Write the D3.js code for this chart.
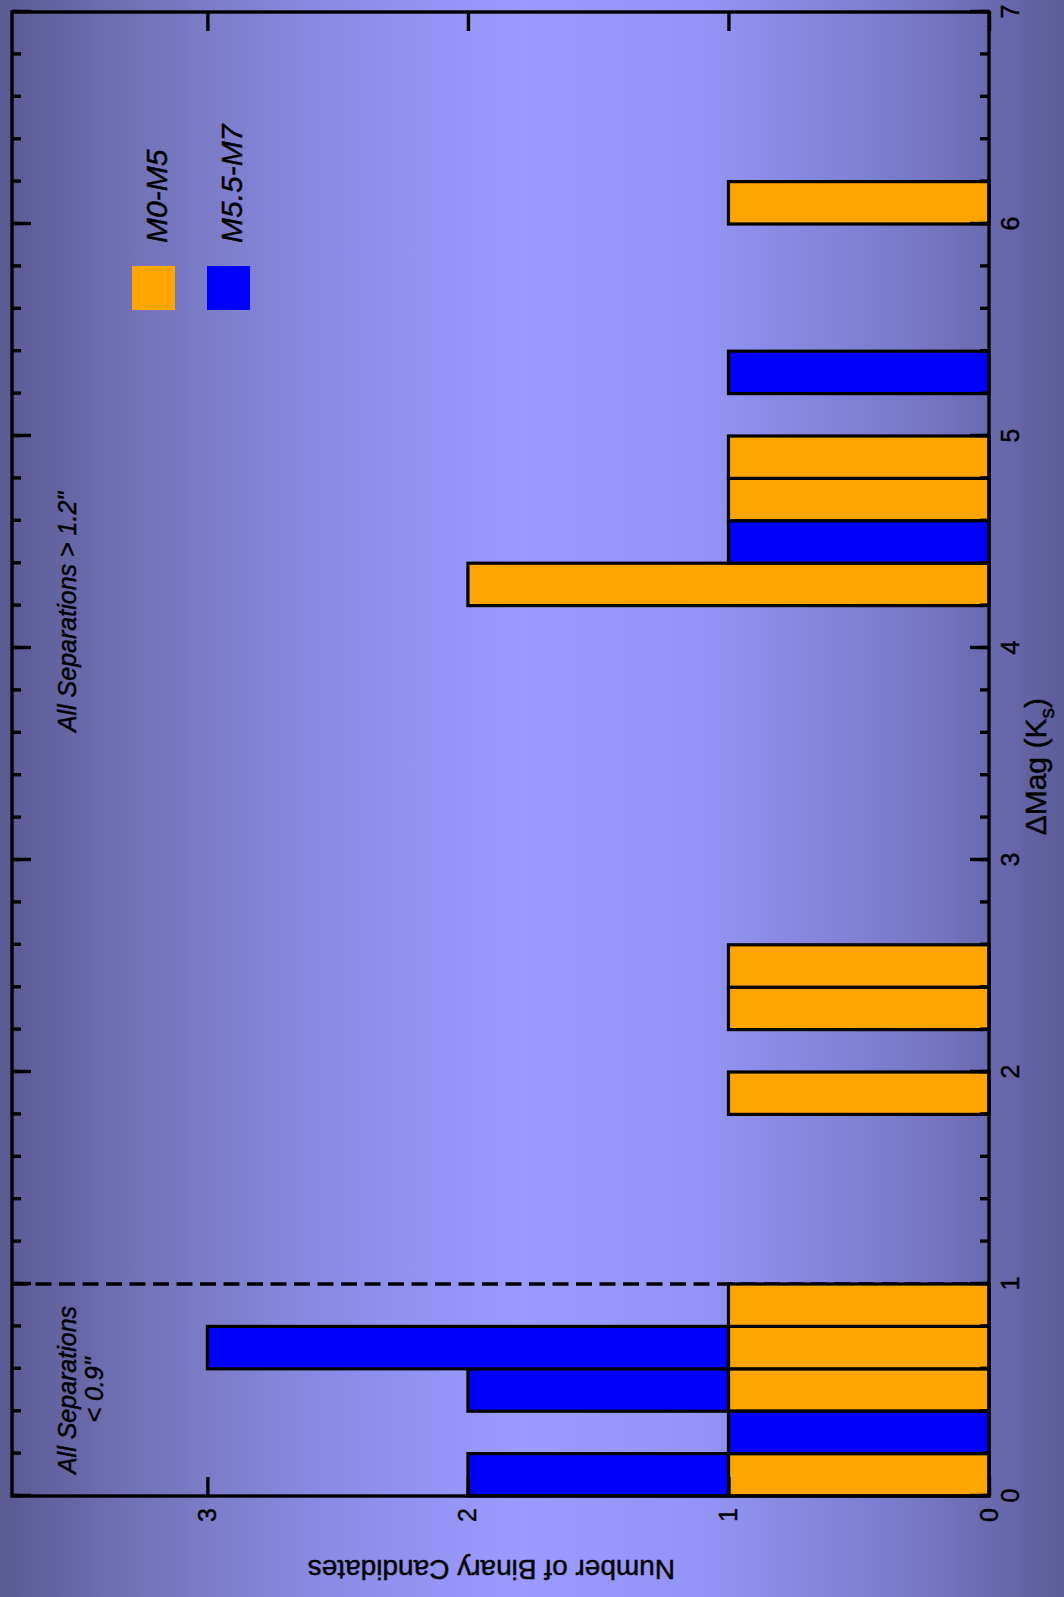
<!DOCTYPE html>
<html>
<head>
<meta charset="utf-8">
<script src="https://cdn.jsdelivr.net/npm/d3@7"></script>
<style>
  body { margin: 0; background: #5a5a94; }
  svg { display: block; font-family: "Liberation Sans", Arial, Helvetica, sans-serif; }
  svg text { stroke: #000; stroke-width: 0.45px; }
</style>
</head>
<body>
<div id="chart"></div>
<script>
// histogram bins of delta magnitude (lower edge, width 0.2)
const binLo = [0.0, 0.2, 0.4, 0.6, 0.8, 1.8, 2.2, 2.4, 4.2, 4.4, 4.6, 4.8, 5.2, 6.0];
const binWidth = 0.2;
// counts per bin for each spectral-type group
const earlyM = [1, 0, 1, 1, 1, 1, 1, 1, 2, 0, 1, 1, 0, 1];   // M0-M5
const lateM  = [1, 1, 1, 2, 0, 0, 0, 0, 0, 1, 0, 0, 1, 0];   // M5.5-M7
const groupNames = ["M0-M5", "M5.5-M7"];
const groupColors = ["#ffa500", "#0000ff"];
const magTicks = [0, 1, 2, 3, 4, 5, 6, 7];
const countTicks = [0, 1, 2, 3];
const magDomain = [0, 7];
const countDomain = [0, 3.75];

function drawChart() {
    const totalW = 1064, totalH = 1597;
    // plot is drawn in its own frame, then turned by -90 degrees
    const origin = {x: 12, y: 1496};
    const width = 1484, height = 977;

    const svg = d3.select("#chart")
    .append("svg")
    .attr("width", totalW)
    .attr("height", totalH);

    const defs = svg.append("defs");
    const bg = defs.append("linearGradient").attr("id", "bg-gradient");
    [[0, "#5a5a94"], [0.14, "#7474ba"], [0.3, "#8a8ae4"], [0.49, "#9b9bff"],
     [0.66, "#9494f5"], [0.85, "#7a7acb"], [1, "#5c5c98"]].forEach(function(s) {
        bg.append("stop").attr("offset", s[0]).attr("stop-color", s[1]);
    });
    svg.append("rect")
    .attr("width", totalW)
    .attr("height", totalH)
    .attr("fill", "url(#bg-gradient)");

    const g = svg.append("g")
    .attr("transform", "translate(" + origin.x + "," + origin.y + ") rotate(-90)");

    const x = d3.scaleLinear().domain(magDomain).range([0, width]);
    const y = d3.scaleLinear().domain(countDomain).range([height, 0]);

    // dashed separator at dMag = 1
    g.append("line")
    .attr("x1", x(1)).attr("x2", x(1))
    .attr("y1", 0).attr("y2", height)
    .attr("stroke", "#000")
    .attr("stroke-width", 3.5)
    .attr("stroke-dasharray", "16,7.5");

    // stacked bars
    const rows = binLo.map(function(lo, i) {
        return {lo: lo, "M0-M5": earlyM[i], "M5.5-M7": lateM[i]};
    });
    const series = d3.stack().keys(groupNames)(rows);
    series.forEach(function(s, si) {
        g.append("g")
        .selectAll("rect")
        .data(s.filter(function(d) { return d[1] > d[0]; }))
        .enter()
        .append("rect")
        .attr("x", function(d) { return x(d.data.lo); })
        .attr("width", function(d) { return x(d.data.lo + binWidth) - x(d.data.lo); })
        .attr("y", function(d) { return y(d[1]); })
        .attr("height", function(d) { return y(d[0]) - y(d[1]); })
        .attr("fill", groupColors[si])
        .attr("stroke", "#000")
        .attr("stroke-width", 3.2);
    });

    // axes (inner ticks on all four sides)
    const minor = x.ticks(35);
    const style = function(sel) {
        sel.select(".domain").remove();
        sel.selectAll(".tick line").attr("stroke", "#000").attr("stroke-width", 3.4);
        sel.selectAll("text").attr("fill", "#000").style("font-size", "25px");
    };
    g.append("g").attr("transform", "translate(0," + height + ")")
    .call(d3.axisBottom(x).tickValues(minor).tickSize(-9).tickFormat("")).call(style);
    g.append("g").call(d3.axisTop(x).tickValues(minor).tickSize(-9).tickFormat("")).call(style);
    g.append("g").attr("transform", "translate(0," + height + ")")
    .call(d3.axisBottom(x).tickValues(magTicks).tickSize(-19).tickPadding(12)
        .tickFormat(d3.format("d"))).call(style);
    g.append("g").call(d3.axisTop(x).tickValues(magTicks).tickSize(-19).tickFormat("")).call(style);
    g.append("g")
    .call(d3.axisLeft(y).tickValues(countTicks).tickSize(-19).tickPadding(12)
        .tickFormat(d3.format("d"))).call(style);
    g.append("g").attr("transform", "translate(" + width + ",0)")
    .call(d3.axisRight(y).tickValues(countTicks).tickSize(-19).tickFormat("")).call(style);

    g.append("rect")
    .attr("width", width)
    .attr("height", height)
    .attr("fill", "none")
    .attr("stroke", "#000")
    .attr("stroke-width", 3.4);

    // axis titles
    const xt = g.append("text")
    .attr("x", x(3.44))
    .attr("y", height + 57)
    .attr("text-anchor", "middle")
    .style("font-size", "30px")
    .text("\u0394Mag (K");
    xt.append("tspan").attr("dy", 8).style("font-size", "21px").text("s");
    xt.append("tspan").attr("dy", -8).text(")");

    g.append("text")
    .attr("transform", "translate(-64," + y(1.91) + ") rotate(-90)")
    .attr("text-anchor", "middle")
    .style("font-size", "28px")
    .text("Number of Binary Candidates");

    // annotations
    g.append("text")
    .attr("x", x(4.17)).attr("y", 64)
    .attr("text-anchor", "middle")
    .style("font-size", "25px").style("font-style", "italic")
    .text("All Separations > 1.2\"");
    const a2 = g.append("text")
    .attr("text-anchor", "middle")
    .style("font-size", "25px").style("font-style", "italic");
    a2.append("tspan").attr("x", x(0.5)).attr("y", 64).text("All Separations");
    a2.append("tspan").attr("x", x(0.5)).attr("y", 91).text("< 0.9\"");

    // legend
    const legend = g.append("g").attr("transform", "translate(1186,120)");
    groupNames.forEach(function(name, i) {
        legend.append("rect")
        .attr("x", 0).attr("y", i * 75)
        .attr("width", 44).attr("height", 43)
        .attr("fill", groupColors[i]);
        legend.append("text")
        .attr("x", 67).attr("y", i * 75 + 35)
        .style("font-size", "30px").style("font-style", "italic")
        .text(name);
    });
}
drawChart();
</script>
</body>
</html>
